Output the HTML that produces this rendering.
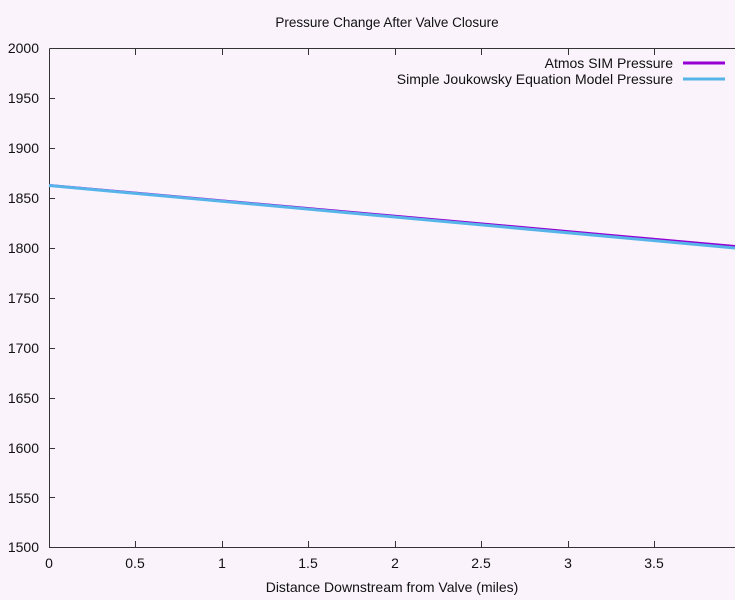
<!DOCTYPE html><html><head><style>body{margin:0;background:#faf3fc}svg{display:block}text{font-family:"Liberation Sans",sans-serif;font-size:14px;fill:#111}</style></head><body>
<svg width="735" height="600" xmlns="http://www.w3.org/2000/svg">
<rect width="735" height="600" fill="#faf3fc"/>
<text x="387" y="27" text-anchor="middle" style="font-size:13.5px">Pressure Change After Valve Closure</text>
<g stroke="#333" stroke-width="1" fill="none">
<path d="M49.5,48.5V547.5H735M49.5,48.5H735"/>
<path d="M49,98.5h6M49,148.5h6M49,198.5h6M49,248.5h6M49,298.5h6M49,348.5h6M49,398.5h6M49,448.5h6M49,497.5h6"/>
<path d="M135.5,547v-6M222.5,547v-6M308.5,547v-6M395.5,547v-6M481.5,547v-6M568.5,547v-6M654.5,547v-6"/>
<path d="M135.5,49v6M222.5,49v6M308.5,49v6M395.5,49v6M481.5,49v6M568.5,49v6M654.5,49v6"/>
</g>
<g text-anchor="end">
<text x="39" y="53">2000</text><text x="39" y="103">1950</text><text x="39" y="153">1900</text><text x="39" y="203">1850</text><text x="39" y="253">1800</text><text x="39" y="303">1750</text><text x="39" y="353">1700</text><text x="39" y="403">1650</text><text x="39" y="453">1600</text><text x="39" y="503">1550</text><text x="39" y="552">1500</text>
</g>
<g text-anchor="middle">
<text x="49" y="568">0</text><text x="135" y="568">0.5</text><text x="222" y="568">1</text><text x="308" y="568">1.5</text><text x="395" y="568">2</text><text x="481" y="568">2.5</text><text x="568" y="568">3</text><text x="654" y="568">3.5</text>
<text x="392" y="592">Distance Downstream from Valve (miles)</text>
</g>
<text x="673" y="68" text-anchor="end">Atmos SIM Pressure</text>
<text x="673" y="84" text-anchor="end">Simple Joukowsky Equation Model Pressure</text>
<line x1="683" y1="63" x2="725" y2="63" stroke="#9400d3" stroke-width="3"/>
<line x1="683" y1="79" x2="725" y2="79" stroke="#56b4e9" stroke-width="3"/>
<line x1="49" y1="185" x2="735" y2="246" stroke="#9400d3" stroke-width="2"/>
<line x1="49" y1="185.5" x2="735" y2="248" stroke="#56b4e9" stroke-width="3"/>
</svg></body></html>
